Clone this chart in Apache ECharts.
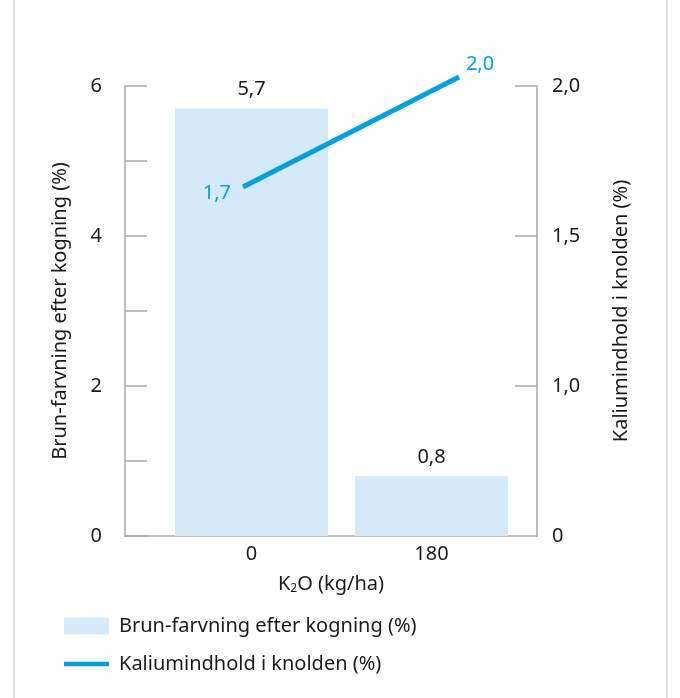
<!DOCTYPE html>
<html>
<head>
<meta charset="utf-8">
<script src="https://cdn.jsdelivr.net/npm/echarts@6/dist/echarts.min.js"></script>
<style>
html,body{margin:0;padding:0;background:#fff;}
#chart{width:680px;height:698px;}
</style>
</head>
<body>
<div id="chart"></div>
<script>
// Data
const categories = [0, 180];            // K2O (kg/ha)
const brunValues = [5.7, 0.8];          // Brun-farvning efter kogning (%)
const kaliumValues = [1.7, 2.0];        // Kaliumindhold i knolden (%)
const leftTicks = [0, 2, 4, 6];
const rightTicks = [0.5, 1.0, 1.5, 2.0]; // bottom of broken axis shown as "0"
const barName = 'Brun-farvning efter kogning (%)';
const lineName = 'Kaliumindhold i knolden (%)';

const FONT = 'Noto Sans';
const FS = 20;
const TXT = '#1a1a1a';
const AX = '#a8a8a8';
const BLUE = '#009fe3';
const BAR = '#d4eaf9';
const fmt = v => v === 0 ? '0' : v.toFixed(1).replace('.', ',');
const fmtRight = v => v === 0.5 ? '0' : fmt(v);

const chart = echarts.init(document.getElementById('chart'), null, {renderer: 'canvas'});
chart.setOption({
  animation: false,
  textStyle: {fontFamily: FONT},
  graphic: [{
    type: 'rect', silent: true,
    shape: {x: 14, y: -10, width: 653, height: 720},
    style: {fill: 'none', stroke: '#e0e0e0', lineWidth: 2}
  }],
  grid: {left: 125, right: 143, top: 86, bottom: 162},
  legend: {
    orient: 'vertical', left: 64, top: 616, padding: 0,
    itemWidth: 45, itemHeight: 17, itemGap: 18,
    textStyle: {fontFamily: FONT, fontSize: FS, color: TXT, padding: [0, 0, 0, 5]},
    data: [
      {name: barName, icon: 'rect'},
      {name: lineName, icon: 'path://M0,0 H45 V4.5 H0 Z', itemStyle: {color: BLUE}}
    ]
  },
  xAxis: [{
    type: 'value', min: -126.5, max: 285.5,
    axisLine: {show: true, onZero: false, lineStyle: {color: AX, width: 1.5}},
    axisTick: {show: false},
    splitLine: {show: false},
    axisLabel: {customValues: categories, fontSize: FS, color: TXT, margin: 8, fontFamily: FONT},
    name: 'K{sub|2}O (kg/ha)', nameLocation: 'middle', nameGap: 38,
    nameTextStyle: {fontSize: FS, color: TXT, fontFamily: FONT,
      rich: {sub: {fontSize: 12, color: TXT, fontFamily: FONT, verticalAlign: 'bottom', padding: [9, 0, 0, 0]}}}
  }, {
    type: 'value', min: -98.33, max: 245, show: false
  }],
  yAxis: [{
    type: 'value', min: 0, max: 6, interval: 1, position: 'left',
    axisLine: {show: true, onZero: false, lineStyle: {color: AX, width: 1.5}},
    axisTick: {show: true, inside: true, length: 22, lineStyle: {color: AX, width: 1.5}},
    splitLine: {show: false},
    axisLabel: {customValues: leftTicks, fontSize: FS, color: TXT, margin: 23, fontFamily: FONT},
    name: barName, nameLocation: 'middle', nameRotate: 90, nameGap: 55,
    nameTextStyle: {fontSize: FS, color: TXT, fontFamily: FONT}
  }, {
    type: 'value', min: 0.5, max: 2, interval: 0.5, position: 'right',
    axisLine: {show: true, onZero: false, lineStyle: {color: AX, width: 1.5}},
    axisTick: {show: true, inside: true, length: 22, customValues: [1.0, 1.5, 2.0], lineStyle: {color: AX, width: 1.5}},
    splitLine: {show: false},
    axisLabel: {customValues: rightTicks, formatter: fmtRight, fontSize: FS, color: TXT, margin: 15, fontFamily: FONT},
    name: lineName, nameLocation: 'middle', nameRotate: 90, nameGap: 74,
    nameTextStyle: {fontSize: FS, color: TXT, fontFamily: FONT}
  }, {
    type: 'value', min: 0.7482, max: 1.9755, show: false
  }],
  series: [{
    type: 'bar', name: barName,
    xAxisIndex: 0, yAxisIndex: 0,
    barWidth: 153,
    itemStyle: {color: BAR},
    label: {show: true, position: 'top', distance: 9, fontSize: FS, color: TXT, fontFamily: FONT,
      formatter: p => fmt(p.value[1])},
    data: categories.map((c, i) => [c, brunValues[i]])
  }, {
    type: 'line', name: lineName,
    xAxisIndex: 1, yAxisIndex: 2,
    clip: false,
    symbol: 'circle', symbolSize: 0.1,
    itemStyle: {color: BLUE},
    lineStyle: {color: BLUE, width: 5, cap: 'butt'},
    label: {show: true, fontSize: FS, color: BLUE, fontFamily: FONT, formatter: p => fmt(p.value[1])},
    data: categories.map((c, i) => ({
      value: [c, kaliumValues[i]],
      label: i === 0 ? {position: 'left', distance: 12, offset: [0, 6]} : {position: 'top', distance: 3, offset: [21, 0]}
    }))
  }]
});
</script>
</body>
</html>
